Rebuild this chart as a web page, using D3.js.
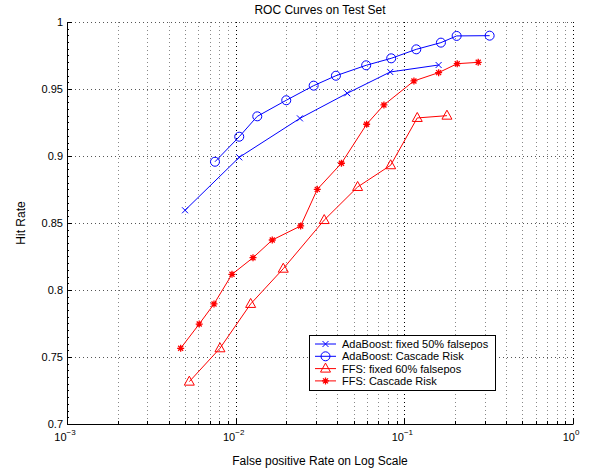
<!DOCTYPE html>
<html><head><meta charset="utf-8">
<script src="https://cdn.jsdelivr.net/npm/d3@7"></script>
<style>body{margin:0;background:#fff;} svg{display:block;font-family:"Liberation Sans",Arial,Helvetica,sans-serif;}</style>
</head><body>
<svg id="c" width="600" height="472"></svg>
<script>
const adaFixedX = [0.00501, 0.0105, 0.02404, 0.04587, 0.0825, 0.1597];
const adaFixedY = [0.8595, 0.899, 0.9281, 0.9468, 0.9627, 0.9679];
const adaCascX = [0.00754, 0.0105, 0.01343, 0.01995, 0.029, 0.0393, 0.0594, 0.0836, 0.1177, 0.1648, 0.2042, 0.3204];
const adaCascY = [0.8957, 0.9144, 0.9296, 0.9416, 0.9525, 0.9599, 0.9677, 0.9729, 0.9796, 0.9846, 0.9896, 0.9898];
const ffsFixedX = [0.00531, 0.00807, 0.01227, 0.01915, 0.0335, 0.05286, 0.08296, 0.1193, 0.1789];
const ffsFixedY = [0.7316, 0.7565, 0.7896, 0.8159, 0.8522, 0.8769, 0.8931, 0.9284, 0.9301];
const ffsCascX = [0.00472, 0.00608, 0.00744, 0.00951, 0.01267, 0.01648, 0.02428, 0.03047, 0.04238, 0.05977, 0.07568, 0.114, 0.1597, 0.2059, 0.2742];
const ffsCascY = [0.7565, 0.7746, 0.7896, 0.8117, 0.8241, 0.8373, 0.8478, 0.8751, 0.8946, 0.9237, 0.9381, 0.956, 0.9622, 0.9689, 0.9699];
const seriesNames = ["AdaBoost: fixed 50% falsepos", "AdaBoost: Cascade Risk", "FFS: fixed 60% falsepos", "FFS: Cascade Risk"];
const yTicks = [0.7, 0.75, 0.8, 0.85, 0.9, 0.95, 1];
const xTickExps = [-3, -2, -1, 0];
const titleText = "ROC Curves on Test Set";
const xLabel = "False positive Rate on Log Scale";
const yLabel = "Hit Rate";

const L = 67, R = 573, T = 22, B = 424;
const svg = d3.select("#c");
const x = d3.scaleLog().domain([1e-3, 1]).range([L, R]);
const y = d3.scaleLinear().domain([0.7, 1]).range([B, T]);

const series = [
  {name: seriesNames[0], xs: adaFixedX, ys: adaFixedY, color: "#0000ff", marker: "x"},
  {name: seriesNames[1], xs: adaCascX, ys: adaCascY, color: "#0000ff", marker: "o"},
  {name: seriesNames[2], xs: ffsFixedX, ys: ffsFixedY, color: "#ff0000", marker: "^"},
  {name: seriesNames[3], xs: ffsCascX, ys: ffsCascY, color: "#ff0000", marker: "*"}
];

// grid
const g = svg.append("g");
const minor = [];
for (let e = -3; e < 0; e++) for (let k = 2; k <= 9; k++) minor.push(k * Math.pow(10, e));
g.selectAll(".vminor").data(minor).enter().append("line")
  .attr("x1", d => Math.round(x(d)) + 0.5).attr("x2", d => Math.round(x(d)) + 0.5)
  .attr("y1", T).attr("y2", B)
  .attr("stroke", "#888").attr("stroke-width", 1).attr("stroke-dasharray", "1,3");
const majors = xTickExps.map(e => Math.pow(10, e)).filter(v => v > 1e-3);
g.selectAll(".vmajor").data(majors).enter().append("line")
  .attr("x1", d => Math.round(x(d)) + 0.5).attr("x2", d => Math.round(x(d)) + 0.5)
  .attr("y1", T).attr("y2", B)
  .attr("stroke", "#000").attr("stroke-width", 1).attr("stroke-dasharray", "1,3");
g.selectAll(".hgrid").data(yTicks.filter(v => v > 0.7)).enter().append("line")
  .attr("x1", L).attr("x2", R)
  .attr("y1", d => Math.round(y(d)) + 0.5).attr("y2", d => Math.round(y(d)) + 0.5)
  .attr("stroke", "#555").attr("stroke-width", 1).attr("stroke-dasharray", "1,3");

// axes
const ax = svg.append("g").attr("stroke", "#000").attr("stroke-width", 1);
ax.append("line").attr("x1", L + 0.5).attr("x2", L + 0.5).attr("y1", T).attr("y2", B + 0.5);
ax.append("line").attr("x1", L).attr("x2", R + 0.5).attr("y1", B + 0.5).attr("y2", B + 0.5);
yTicks.forEach(v => {
  const yy = Math.round(y(v)) + 0.5;
  ax.append("line").attr("x1", L).attr("x2", L + 5).attr("y1", yy).attr("y2", yy);
});
for (let v = 0.705; v < 1; v += 0.005) {
  if (Math.abs(v * 20 - Math.round(v * 20)) < 1e-6) continue;
  const yy = Math.round(y(v)) + 0.5;
  ax.append("line").attr("x1", L).attr("x2", L + 2).attr("y1", yy).attr("y2", yy);
}
xTickExps.forEach(e => {
  const xx = Math.round(x(Math.pow(10, e))) + 0.5;
  ax.append("line").attr("x1", xx).attr("x2", xx).attr("y1", B).attr("y2", B - 5);
});
minor.forEach(v => {
  const xx = Math.round(x(v)) + 0.5;
  ax.append("line").attr("x1", xx).attr("x2", xx).attr("y1", B).attr("y2", B - 3);
});

// tick labels
const txt = svg.append("g").attr("fill", "#000").attr("font-size", 11);
yTicks.forEach(v => {
  txt.append("text").attr("x", L - 4).attr("y", y(v) + 4).attr("text-anchor", "end").text(d3.format("~g")(v));
});
xTickExps.forEach(e => {
  const t = txt.append("text").attr("x", x(Math.pow(10, e)) - 2).attr("y", B + 17).attr("text-anchor", "middle");
  t.append("tspan").text("10");
  t.append("tspan").attr("font-size", 8).attr("dy", -6).text(e === 0 ? "0" : "\u2212" + Math.abs(e));
});
txt.append("text").attr("x", (L + R) / 2).attr("y", 14).attr("text-anchor", "middle").attr("font-size", 12).text(titleText);
txt.append("text").attr("x", (L + R) / 2).attr("y", 465).attr("text-anchor", "middle").attr("font-size", 12).text(xLabel);
txt.append("text").attr("transform", `translate(25,${(T + B) / 2}) rotate(-90)`).attr("text-anchor", "middle").attr("font-size", 12).text(yLabel);

// markers
function drawMarker(sel, type, cx, cy, color) {
  const m = sel.append("g").attr("transform", `translate(${cx},${cy})`).attr("stroke", color).attr("fill", "none").attr("stroke-width", 1);
  if (type === "x") {
    m.append("path").attr("d", "M-3,-3L3,3M-3,3L3,-3");
  } else if (type === "o") {
    m.append("circle").attr("r", 4.5);
  } else if (type === "^") {
    m.append("path").attr("d", "M0,-5.5L5,3.5L-5,3.5Z");
  } else if (type === "*") {
    m.append("path").attr("d", "M-3.5,0L3.5,0M0,-3.5L0,3.5M-2.5,-2.5L2.5,2.5M-2.5,2.5L2.5,-2.5").attr("stroke-width", 1.3);
  }
}
const line = d3.line().x(d => x(d[0])).y(d => y(d[1]));
series.forEach(s => {
  const pts = s.xs.map((v, i) => [v, s.ys[i]]);
  svg.append("path").datum(pts).attr("d", line).attr("fill", "none").attr("stroke", s.color).attr("stroke-width", 1);
  const mg = svg.append("g");
  pts.forEach(p => drawMarker(mg, s.marker, x(p[0]), y(p[1]), s.color));
});

// legend
const lg = svg.append("g");
lg.append("rect").attr("x", 309.5).attr("y", 335.5).attr("width", 186).attr("height", 55).attr("fill", "#fff").attr("stroke", "#000").attr("stroke-width", 1);
series.forEach((s, i) => {
  const yy = 344 + i * 12.3;
  lg.append("line").attr("x1", 315).attr("x2", 336).attr("y1", yy).attr("y2", yy).attr("stroke", s.color).attr("stroke-width", 1);
  drawMarker(lg, s.marker, 325.5, yy, s.color);
  lg.append("text").attr("x", 342).attr("y", yy + 4).attr("font-size", 11).attr("fill", "#000").text(s.name);
});
</script>
</body></html>
